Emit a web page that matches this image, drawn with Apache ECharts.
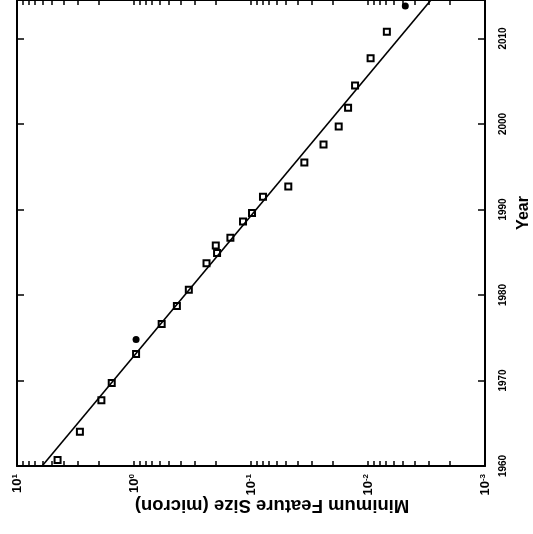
<!DOCTYPE html>
<html>
<head>
<meta charset="utf-8">
<script src="https://cdn.jsdelivr.net/npm/echarts@6/dist/echarts.min.js"></script>
<style>html,body{margin:0;padding:0;background:#fff;}#c{width:533px;height:534px;}</style>
</head>
<body>
<div id="c"></div>
<script>
// Data read from the (rotated) reference chart
var years = [1960.7, 1964.0, 1967.7, 1969.7, 1973.1, 1976.6, 1978.7, 1980.6, 1983.7, 1984.9, 1985.8, 1986.7, 1988.6, 1989.6, 1991.5, 1992.7, 1995.5, 1997.6, 1999.7, 2001.9, 2004.5, 2007.7, 2010.8];
var sizes = [4.5, 2.9, 1.9, 1.55, 0.96, 0.58, 0.43, 0.34, 0.24, 0.195, 0.2, 0.15, 0.117, 0.098, 0.079, 0.048, 0.035, 0.024, 0.0178, 0.0148, 0.0129, 0.0095, 0.0069];
var circleYears = [1974.8, 2013.8];
var circleSizes = [0.96, 0.0048];
var fitYears = [1960, 2015];
var fitSizes = [6.1, 0.0027];
var yearTicks = [1960, 1970, 1980, 1990, 2000, 2010];
var decadeTicks = [0.001, 0.01, 0.1, 1, 10];

var minorTicks = [];
for (var d = 0; d < decadeTicks.length - 1; d++) {
  for (var m = 1; m <= 9; m++) minorTicks.push(+(decadeTicks[d] * m).toPrecision(3));
}
minorTicks.push(10);

function pairs(xs, ys) { return xs.map(function (x, i) { return [x, ys[i]]; }); }

var font = 'Liberation Sans';
var chart = echarts.init(document.getElementById('c'));
var logBase = {
  type: 'log', inverse: true, min: 0.001, max: 10, logBase: 10,
  axisLine: { show: true, onZero: false, lineStyle: { color: '#000', width: 2 } },
  axisTick: { show: true, inside: true, length: 5, customValues: minorTicks, lineStyle: { color: '#000', width: 1.5 } },
  splitLine: { show: false }
};
var option = {
  animation: false,
  backgroundColor: '#fff',
  grid: { left: 17, right: 48, top: 0, bottom: 68, containLabel: false, outerBoundsMode: 'none' },
  xAxis: [
    Object.assign({}, logBase, {
      position: 'bottom',
      name: 'Minimum Feature Size (micron)',
      nameLocation: 'middle', nameGap: 30, nameRotate: 180, nameMoveOverlap: false,
      nameTextStyle: { fontFamily: font, fontSize: 18.5, fontWeight: 'bold', color: '#000', padding: [0, 42, 0, 0] },
      axisLabel: {
        show: true, rotate: 90, margin: 8, customValues: decadeTicks,
        formatter: function (v) {
          var e = Math.round(Math.log10(v));
          return '{b|10}{s|' + e + '}';
        },
        rich: {
          b: { fontFamily: font, fontSize: 13, fontWeight: 'bold', color: '#000' },
          s: { fontFamily: font, fontSize: 8, fontWeight: 'bold', color: '#000', verticalAlign: 'top' }
        }
      }
    }),
    Object.assign({}, logBase, { position: 'top', axisLabel: { show: false } })
  ],
  yAxis: [
    {
      type: 'value', position: 'right', min: 1960, max: 2014.5,
      name: 'Year', nameLocation: 'middle', nameGap: 22, nameRotate: 90,
      nameTextStyle: { fontFamily: font, fontSize: 16, fontWeight: 'bold', color: '#000', padding: [0, 0, 0, 40] },
      axisLine: { show: true, onZero: false, lineStyle: { color: '#000', width: 2 } },
      axisTick: { show: true, inside: true, length: 7, customValues: yearTicks, lineStyle: { color: '#000', width: 1.5 } },
      axisLabel: {
        show: true, rotate: 90, margin: 13, customValues: yearTicks,
        formatter: function (v) { return String(v); },
        fontFamily: font, fontSize: 10, fontWeight: 'bold', color: '#000'
      },
      splitLine: { show: false }
    },
    {
      type: 'value', position: 'left', min: 1960, max: 2014.5,
      axisLine: { show: true, onZero: false, lineStyle: { color: '#000', width: 2 } },
      axisTick: { show: true, inside: true, length: 7, customValues: yearTicks, lineStyle: { color: '#000', width: 1.5 } },
      axisLabel: { show: false },
      splitLine: { show: false }
    }
  ],
  series: [
    {
      type: 'line', xAxisIndex: 0, yAxisIndex: 0, data: pairs(fitSizes, fitYears),
      showSymbol: false, symbol: 'none', clip: true,
      lineStyle: { color: '#000', width: 1.6 }
    },
    {
      type: 'scatter', xAxisIndex: 0, yAxisIndex: 0, data: pairs(sizes, years),
      symbol: 'rect', symbolSize: 6,
      itemStyle: { color: '#fff', borderColor: '#000', borderWidth: 2, opacity: 1 }
    },
    {
      type: 'scatter', xAxisIndex: 0, yAxisIndex: 0, data: pairs(circleSizes, circleYears),
      symbol: 'circle', symbolSize: 7,
      itemStyle: { color: '#000', opacity: 1 }
    }
  ]
};
chart.setOption(option);
</script>
</body>
</html>
